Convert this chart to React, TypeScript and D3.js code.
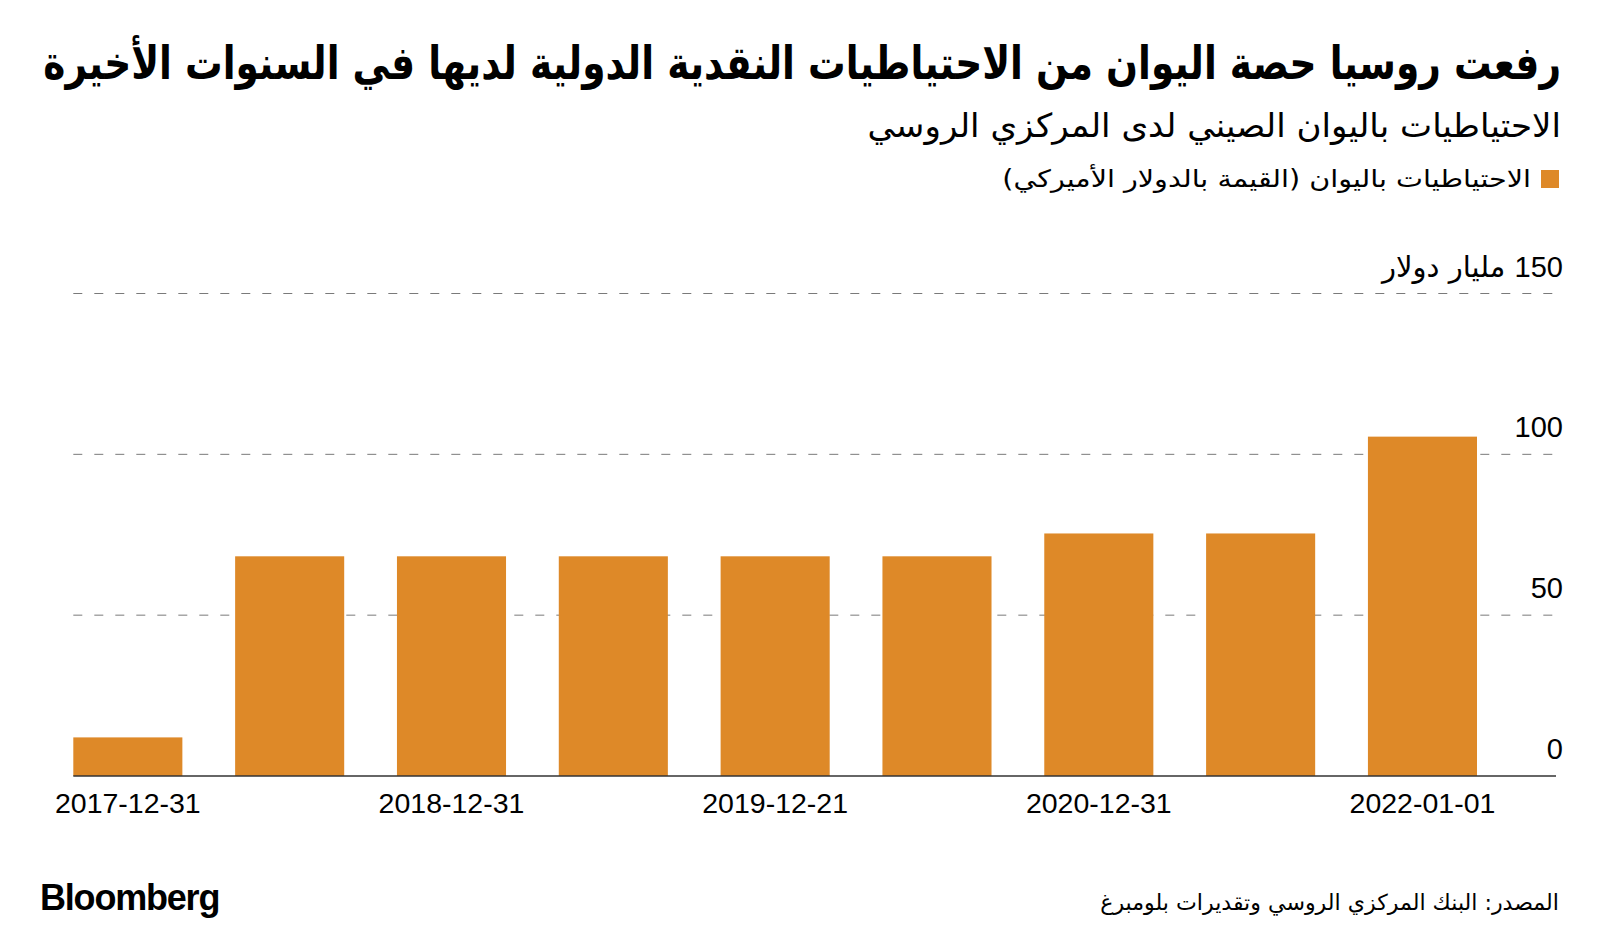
import React, { useLayoutEffect, useRef, useState } from "react";
import * as d3 from "d3";

const categories = [
  "2017-12-31",
  "2018-06-30",
  "2018-12-31",
  "2019-06-30",
  "2019-12-21",
  "2020-06-30",
  "2020-12-31",
  "2021-06-30",
  "2022-01-01",
];
const values = [12, 68.3, 68.3, 68.3, 68.3, 68.3, 75.4, 75.4, 105.5];
const shownTicks = ["2017-12-31", "2018-12-31", "2019-12-21", "2020-12-31", "2022-01-01"];
const yTicks = [0, 50, 100, 150];

const title = "رفعت روسيا حصة اليوان من الاحتياطيات النقدية الدولية لديها في السنوات الأخيرة";
const subtitle = "الاحتياطيات باليوان الصيني لدى المركزي الروسي";
const legendLabel = "الاحتياطيات باليوان (القيمة بالدولار الأميركي)";
const unitLabel = "مليار دولار";
const source = "المصدر: البنك المركزي الروسي وتقديرات بلومبرغ";

const W = 1600;
const H = 930;
const ORANGE = "#DE8928";
const AR = "'DejaVu Sans', sans-serif";
const LAT = "'Liberation Sans', Arial, sans-serif";

function FitText(props: {
  x: number;
  y: number;
  width: number;
  fontSize: number;
  bold?: boolean;
  children: string;
}) {
  const ref = useRef<SVGTextElement>(null);
  const [sx, setSx] = useState(1);
  useLayoutEffect(() => {
    if (ref.current) {
      const w = ref.current.getComputedTextLength();
      if (w > 0) setSx(props.width / w);
    }
  }, [props.width, props.children]);
  return (
    <g transform={`translate(${props.x},${props.y}) scale(${sx},1)`}>
      <text
        ref={ref}
        x={0}
        y={0}
        direction="rtl"
        textAnchor="start"
        fontFamily={AR}
        fontWeight={props.bold ? "bold" : "normal"}
        fontSize={props.fontSize}
        fill="#000"
      >
        {props.children}
      </text>
    </g>
  );
}

export default function App() {
  const x = d3.scaleBand<string>().domain(categories).range([73.3, 1477]).paddingInner(0.326).paddingOuter(0);
  const y = d3.scaleLinear().domain([0, 150]).range([776, 293.5]);
  const gridX0 = 73.3;
  const gridX1 = 1556;

  return (
    <svg width={W} height={H} style={{ position: "absolute", left: 0, top: 0, background: "#fff" }}>
      <rect x={0} y={0} width={W} height={H} fill="#fff" />
      {/* Title */}
      <FitText x={1561} y={79} width={1518} fontSize={46} bold>
        {title}
      </FitText>
      {/* Subtitle */}
      <FitText x={1561} y={137} width={694} fontSize={33}>
        {subtitle}
      </FitText>
      {/* Legend */}
      <rect x={1541} y={170} width={18} height={18} fill={ORANGE} />
      <FitText x={1531} y={187} width={529} fontSize={24}>
        {legendLabel}
      </FitText>

      {/* Gridlines */}
      {yTicks
        .filter((t) => t > 0)
        .map((t) => (
          <line
            key={"g" + t}
            x1={gridX0}
            x2={gridX1}
            y1={y(t)}
            y2={y(t)}
            stroke="#7a7a7a"
            strokeWidth={1}
            strokeDasharray="9,12"
          />
        ))}

      {/* Bars */}
      {categories.map((c, i) => (
        <rect
          key={c}
          x={x(c)}
          y={y(values[i])}
          width={x.bandwidth()}
          height={y(0) - y(values[i])}
          fill={ORANGE}
        />
      ))}

      {/* Baseline */}
      <line x1={gridX0} x2={gridX1} y1={y(0)} y2={y(0)} stroke="#333" strokeWidth={1.5} />

      {/* Y tick labels */}
      {yTicks.map((t) =>
        t === 150 ? (
          <text
            key={"y" + t}
            x={1563}
            y={y(t) - 17}
            direction="rtl"
            textAnchor="start"
            fontFamily={LAT}
            fontSize={29}
            fill="#000"
          >
            <tspan fontFamily={LAT}>{String(t)}</tspan>
            <tspan fontFamily={AR} fontSize={29}>{" " + unitLabel}</tspan>
          </text>
        ) : (
          <text key={"y" + t} x={1563} y={y(t) - 17} textAnchor="end" fontFamily={LAT} fontSize={29} fill="#000">
            {t}
          </text>
        )
      )}

      {/* X tick labels */}
      {shownTicks.map((c) => (
        <text
          key={"x" + c}
          x={(x(c) as number) + x.bandwidth() / 2}
          y={813}
          textAnchor="middle"
          fontFamily={LAT}
          fontSize={28.5}
          fill="#000"
        >
          {c}
        </text>
      ))}

      {/* Footer */}
      <text x={40} y={910} fontFamily={LAT} fontWeight="bold" fontSize={36} letterSpacing={-1.2} fill="#000">
        Bloomberg
      </text>
      <FitText x={1559} y={910} width={459} fontSize={22}>
        {source}
      </FitText>
    </svg>
  );
}
